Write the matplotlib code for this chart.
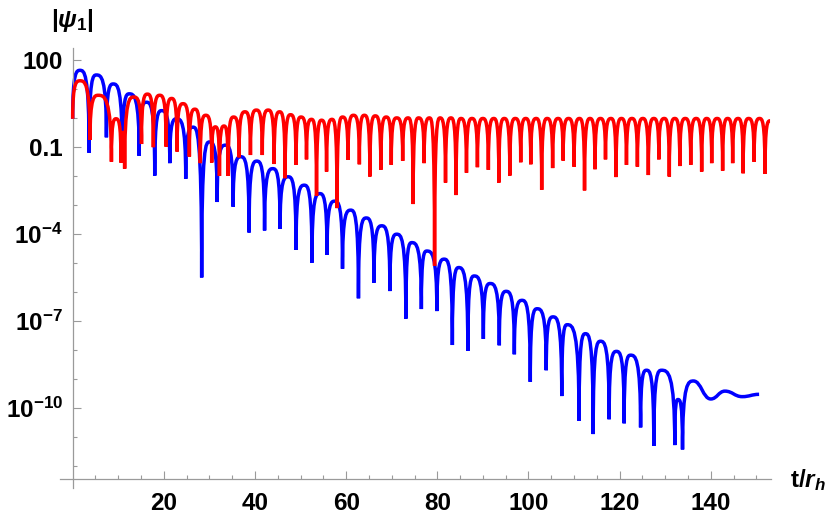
import matplotlib
matplotlib.use('Agg')
import matplotlib.pyplot as plt
from matplotlib.path import Path
from matplotlib.patches import PathPatch
from matplotlib.ticker import FixedLocator, FixedFormatter, NullFormatter

# values; y values are given as log10(|psi_1|)
blue_dip_t = [0.0, 3.6, 7.4, 10.9, 14.6, 18.0, 21.3, 24.8, 28.3, 31.7, 35.2, 38.7, 42.1, 45.5,
              49.0, 52.5, 55.8, 59.2, 62.7, 66.1, 69.6, 73.1, 76.5, 79.9, 83.3, 86.7, 90.1, 93.6,
              96.9, 100.4, 103.9, 107.3, 111.1, 114.2, 117.7, 121.0, 124.6, 127.5, 132.1, 133.8]
blue_dip_exp = [-0.03, -1.2, -0.67, -1.5, -1.31, -1.99, -1.56, -2.1, -5.5, -2.9, -3.06, -3.95, -3.88, -3.83,
                -4.55, -4.99, -4.72, -5.2, -6.22, -5.68, -5.97, -6.92, -6.59, -6.66, -7.83, -8.03, -7.62, -7.84,
                -8.15, -9.1, -8.70, -9.59, -10.44, -10.9, -10.39, -10.53, -10.67, -11.31, -11.28, -11.43]
blue_peak_t = [1.6, 5.2, 8.9, 12.4, 16.2, 19.5, 22.8, 26.4, 30.0, 33.5, 36.9, 40.4, 43.9, 47.3,
               50.8, 54.2, 57.5, 61.0, 64.4, 67.8, 71.1, 74.4, 77.7, 81.5, 84.7, 88.1, 91.6, 95.1,
               98.6, 101.9, 105.4, 108.5, 112.5, 115.8, 119.3, 122.4, 125.9, 129.2, 132.8, 136.2]
blue_peak_exp = [1.64, 1.48, 1.17, 0.83, 0.54, 0.25, -0.03, -0.32, -0.83, -0.94, -1.34, -1.49, -1.75, -2.03,
                 -2.32, -2.61, -2.87, -3.18, -3.45, -3.72, -4.01, -4.30, -4.59, -4.87, -5.16, -5.45, -5.71, -5.98,
                 -6.29, -6.58, -6.86, -7.13, -7.44, -7.70, -8.05, -8.18, -8.70, -8.70, -9.71, -9.07]
blue_tail_t = [140.0, 143.1, 146.9, 150.6]
blue_tail_exp = [-9.69, -9.42, -9.61, -9.53]

red_dip_t = [0.0, 3.8, 8.5, 10.6, 11.4, 15.1, 17.7, 20.5, 22.9, 25.6, 28.0, 30.5, 32.2, 34.1, 36.5, 39.0,
             41.6, 44.2, 46.6, 49.0, 51.3, 53.5, 55.7, 58.0, 60.4, 62.9, 65.2, 67.6, 69.9, 72.4, 74.7, 77.1,
             79.4, 81.8, 84.1, 86.4, 88.8, 91.2, 93.5, 95.9, 98.3, 100.5, 102.9, 105.3, 107.6, 110.0, 112.3, 114.6,
             116.9, 119.2, 121.5, 123.9, 126.3, 128.6, 130.9, 133.2, 135.6, 138.0, 140.2, 142.6, 144.8, 147.1, 149.5, 151.9]
red_dip_exp = [-0.03, -0.76, -1.51, -1.54, -1.75, -0.9, -1.01, -0.99, -1.16, -1.33, -1.56, -1.54, -2.0, -2.0, -1.36, -1.28,
               -1.28, -1.59, -2.08, -1.62, -1.43, -2.69, -1.85, -3.11, -1.45, -1.60, -2.02, -1.79, -1.62, -1.48, -2.97, -1.56,
               -5.1, -2.23, -2.66, -1.89, -1.70, -1.79, -2.23, -1.99, -1.53, -1.60, -2.48, -1.73, -1.47, -1.68, -2.5, -1.77,
               -1.43, -2.04, -1.62, -1.68, -1.97, -1.43, -2.02, -1.66, -1.62, -1.85, -1.56, -1.82, -1.56, -1.91, -1.51, -1.93]
red_peak_t = [1.6, 5.6, 9.5, 11.0, 13.4, 16.4, 19.1, 21.7, 24.2, 26.8, 29.2, 31.3, 33.2, 35.3, 37.8, 40.3,
              42.9, 45.4, 47.8, 50.1, 52.4, 54.6, 56.9, 59.2, 61.6, 64.0, 66.4, 68.8, 71.1, 73.6, 75.9, 78.3,
              80.6, 83.0, 85.2, 87.6, 90.0, 92.4, 94.7, 97.1, 99.4, 101.7, 104.1, 106.5, 108.8, 111.2, 113.5, 115.8,
              118.1, 120.4, 122.7, 125.1, 127.5, 129.8, 132.1, 134.4, 136.8, 139.1, 141.4, 143.7, 146.0, 148.3, 150.7]
red_peak_exp = [1.28, 0.78, -0.03, -0.5, 0.72, 0.82, 0.78, 0.67, 0.49, 0.30, 0.09, -0.31, -0.28, 0.03, 0.21, 0.27,
                0.27, 0.21, 0.11, 0.03, -0.05, -0.08, -0.05, 0.03, 0.09, 0.09, 0.07, 0.03, 0.0, 0.0, 0.0, 0.0,
                0.0, 0.0, -0.02, -0.02, -0.02, -0.02, -0.02, -0.02, -0.02, -0.02, -0.02, -0.02, -0.02, -0.02, -0.02, -0.02,
                -0.02, -0.02, -0.02, -0.02, -0.02, -0.02, -0.02, -0.02, -0.02, -0.02, -0.02, -0.02, -0.02, -0.02, -0.02]
red_tail_t = [153.0]
red_tail_exp = [-0.1]

x_ticks = [20, 40, 60, 80, 100, 120, 140]
y_ticks = [1e2, 1e-1, 1e-4, 1e-7, 1e-10]
y_ticklabels = ['100', '0.1', r'$10^{-4}$', r'$10^{-7}$', r'$10^{-10}$']


def wave_path(dip_t, dip_e, peak_t, peak_e, tail_t, tail_e):
    # dips are cusps (vertical tangent), peaks and tail points are smooth
    pts = [(t, 10 ** e, 'd') for t, e in zip(dip_t, dip_e)]
    pts += [(t, 10 ** e, 'p') for t, e in zip(peak_t, peak_e)]
    pts += [(t, 10 ** e, 'p') for t, e in zip(tail_t, tail_e)]
    pts.sort(key=lambda p: p[0])
    verts = [pts[0][:2]]
    codes = [Path.MOVETO]
    for a, b in zip(pts[:-1], pts[1:]):
        dt = b[0] - a[0]
        c1 = (a[0], b[1]) if a[2] == 'd' else (a[0] + 0.45 * dt, a[1])
        c2 = (b[0], a[1]) if b[2] == 'd' else (b[0] - 0.45 * dt, b[1])
        verts += [c1, c2, b[:2]]
        codes += [Path.CURVE4] * 3
    return Path(verts, codes)


plt.rcParams['font.family'] = ['Liberation Sans', 'DejaVu Sans']
plt.rcParams['font.weight'] = 'bold'
plt.rcParams['mathtext.fontset'] = 'custom'
plt.rcParams['mathtext.rm'] = 'Liberation Sans:bold'
plt.rcParams['mathtext.bf'] = 'Liberation Sans:bold'
plt.rcParams['mathtext.it'] = 'Liberation Sans:bold:italic'

fig = plt.figure(figsize=(8.3, 5.19), dpi=100)
ax = fig.add_axes([0.0722, 0.0597, 0.8572, 0.8478])
ax.set_yscale('log')

ax.add_patch(PathPatch(wave_path(blue_dip_t, blue_dip_exp, blue_peak_t, blue_peak_exp, blue_tail_t, blue_tail_exp),
                       fill=False, edgecolor='#0000ff', lw=2.5, joinstyle='bevel', capstyle='butt', zorder=2))
ax.add_patch(PathPatch(wave_path(red_dip_t, red_dip_exp, red_peak_t, red_peak_exp, red_tail_t, red_tail_exp),
                       fill=False, edgecolor='#ff0000', lw=2.5, joinstyle='bevel', capstyle='butt', zorder=3))

ax.set_xlim(-2.8, 153.3)
ax.set_ylim(10 ** -12.76, 10 ** 2.41)

for s in ['top', 'right']:
    ax.spines[s].set_visible(False)
ax.spines['left'].set_position(('data', 0))
ax.spines['bottom'].set_position(('data', 10 ** -12.45))
for s in ['left', 'bottom']:
    ax.spines[s].set_color('#9a9a9a')
    ax.spines[s].set_linewidth(0.9)

ax.xaxis.set_major_locator(FixedLocator(x_ticks))
ax.xaxis.set_minor_locator(FixedLocator([t for t in range(5, 155, 5) if t % 20]))
ax.yaxis.set_major_locator(FixedLocator(y_ticks))
ax.yaxis.set_major_formatter(FixedFormatter(y_ticklabels))
ax.yaxis.set_minor_locator(FixedLocator([10.0 ** k for k in range(1, -13, -1) if 10.0 ** k not in y_ticks]))
ax.yaxis.set_minor_formatter(NullFormatter())

ax.tick_params(which='both', direction='in', color='#9a9a9a', width=0.8, labelsize=17.5)
ax.tick_params(which='major', length=6)
ax.tick_params(which='minor', length=3)
ax.tick_params(axis='x', which='major', pad=9)
ax.tick_params(axis='y', which='major', pad=7)

fig.text(72 / 830, 1 - 20 / 519, r'$|\psi_1|$', ha='center', va='center', fontsize=17.5)
fig.text(790 / 830, 1 - 487 / 519, r'$\mathrm{t/}r_h$', ha='left', va='baseline', fontsize=17.5)

fig.savefig('out.png', dpi=100)
